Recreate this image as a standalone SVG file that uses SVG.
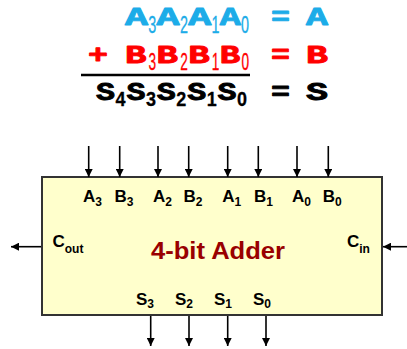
<svg xmlns="http://www.w3.org/2000/svg" width="407" height="349" viewBox="0 0 407 349">
<style>
.eq{font-family:'Courier New','Liberation Mono',monospace;font-weight:bold;font-size:26px;stroke-width:0.9;stroke-linejoin:round}
.sa{font-family:'Liberation Sans',Arial,sans-serif;font-weight:normal;font-size:24px;stroke-width:0.3}
.sm{font-family:'Liberation Sans',Arial,sans-serif;font-weight:bold;font-size:20px;stroke-width:0.3}
.lbl{font-family:'Liberation Sans',Arial,sans-serif;font-weight:bold;font-size:17px;fill:#000}
.sub{font-size:12px}
.title{font-family:'Liberation Sans',Arial,sans-serif;font-weight:bold;font-size:24px;fill:#990000}
.wire{stroke:#000;stroke-width:1.6;fill:none;marker-end:url(#ah)}
</style>
<defs>
<marker id="ah" viewBox="0 0 8 8" refX="8" refY="4" markerWidth="8" markerHeight="8" markerUnits="userSpaceOnUse" orient="auto">
<path d="M0,0 L8,4 L0,8 Z" fill="#000"/>
</marker>
</defs>
<g id="equations">
<text class="eq" fill="#1CACE8" stroke="#1CACE8"><tspan x="125" y="25" textLength="23" lengthAdjust="spacingAndGlyphs">A</tspan><tspan class="sa" x="148.3" y="33" textLength="8" lengthAdjust="spacingAndGlyphs">3</tspan><tspan x="156.6" y="25" textLength="23" lengthAdjust="spacingAndGlyphs">A</tspan><tspan class="sa" x="179.9" y="33" textLength="8" lengthAdjust="spacingAndGlyphs">2</tspan><tspan x="188.2" y="25" textLength="23" lengthAdjust="spacingAndGlyphs">A</tspan><tspan class="sa" x="211.5" y="33" textLength="8" lengthAdjust="spacingAndGlyphs">1</tspan><tspan x="219.8" y="25" textLength="21" lengthAdjust="spacingAndGlyphs">A</tspan><tspan class="sa" x="241.1" y="33" textLength="8" lengthAdjust="spacingAndGlyphs">0</tspan> <tspan x="271" y="25" textLength="19" lengthAdjust="spacingAndGlyphs">=</tspan> <tspan x="306" y="25" textLength="22" lengthAdjust="spacingAndGlyphs">A</tspan></text>
<text class="eq" fill="#FF0000" stroke="#FF0000"><tspan x="88" y="63" textLength="20" lengthAdjust="spacingAndGlyphs">+</tspan> <tspan x="125" y="63" textLength="21.5" lengthAdjust="spacingAndGlyphs">B</tspan><tspan class="sa" x="148.6" y="70" textLength="7.6" lengthAdjust="spacingAndGlyphs">3</tspan><tspan x="156.6" y="63" textLength="21.5" lengthAdjust="spacingAndGlyphs">B</tspan><tspan class="sa" x="180.2" y="70" textLength="7.6" lengthAdjust="spacingAndGlyphs">2</tspan><tspan x="188.2" y="63" textLength="21.5" lengthAdjust="spacingAndGlyphs">B</tspan><tspan class="sa" x="211.8" y="70" textLength="7.6" lengthAdjust="spacingAndGlyphs">1</tspan><tspan x="219.8" y="63" textLength="20.5" lengthAdjust="spacingAndGlyphs">B</tspan><tspan class="sa" x="241.4" y="70" textLength="7.6" lengthAdjust="spacingAndGlyphs">0</tspan> <tspan x="271" y="63" textLength="19" lengthAdjust="spacingAndGlyphs">=</tspan> <tspan x="306" y="63" textLength="22" lengthAdjust="spacingAndGlyphs">B</tspan></text>
<line x1="81" y1="75" x2="250" y2="75" stroke="#000" stroke-width="2.5"/>
<text class="eq" fill="#000" stroke="#000"><tspan x="96" y="100" textLength="19" lengthAdjust="spacingAndGlyphs">S</tspan><tspan class="sm" x="115.5" y="106" textLength="10" lengthAdjust="spacingAndGlyphs">4</tspan><tspan x="126.4" y="100" textLength="19" lengthAdjust="spacingAndGlyphs">S</tspan><tspan class="sm" x="145.9" y="106" textLength="10" lengthAdjust="spacingAndGlyphs">3</tspan><tspan x="156.8" y="100" textLength="19" lengthAdjust="spacingAndGlyphs">S</tspan><tspan class="sm" x="176.3" y="106" textLength="10" lengthAdjust="spacingAndGlyphs">2</tspan><tspan x="187.2" y="100" textLength="19" lengthAdjust="spacingAndGlyphs">S</tspan><tspan class="sm" x="206.7" y="106" textLength="10" lengthAdjust="spacingAndGlyphs">1</tspan><tspan x="217.6" y="100" textLength="19" lengthAdjust="spacingAndGlyphs">S</tspan><tspan class="sm" x="237.1" y="106" textLength="10" lengthAdjust="spacingAndGlyphs">0</tspan> <tspan x="271" y="100" textLength="19" lengthAdjust="spacingAndGlyphs">=</tspan> <tspan x="306" y="100" textLength="22" lengthAdjust="spacingAndGlyphs">S</tspan></text>
</g>
<g id="adder">
<rect x="42" y="177" width="340" height="138" fill="#FFFFCC" stroke="#333" stroke-width="2"/>
<text class="lbl" x="83" y="202">A<tspan class="sub" dy="4">3</tspan></text>
<text class="lbl" x="114.5" y="202">B<tspan class="sub" dy="4">3</tspan></text>
<text class="lbl" x="153" y="202">A<tspan class="sub" dy="4">2</tspan></text>
<text class="lbl" x="183.5" y="202">B<tspan class="sub" dy="4">2</tspan></text>
<text class="lbl" x="222.3" y="202">A<tspan class="sub" dy="4">1</tspan></text>
<text class="lbl" x="254" y="202">B<tspan class="sub" dy="4">1</tspan></text>
<text class="lbl" x="292" y="202">A<tspan class="sub" dy="4">0</tspan></text>
<text class="lbl" x="322.7" y="202">B<tspan class="sub" dy="4">0</tspan></text>
<text class="lbl" x="52.5" y="246.5">C<tspan class="sub" font-size="13" dy="6.5">out</tspan></text>
<text class="lbl" x="347" y="246.5">C<tspan class="sub" font-size="13" dy="6.5">in</tspan></text>
<text class="title" x="151" y="259" textLength="134" lengthAdjust="spacingAndGlyphs">4-bit Adder</text>
<text class="lbl" x="136" y="305">S<tspan class="sub" dy="3">3</tspan></text>
<text class="lbl" x="175" y="305">S<tspan class="sub" dy="3">2</tspan></text>
<text class="lbl" x="214" y="305">S<tspan class="sub" dy="3">1</tspan></text>
<text class="lbl" x="253" y="305">S<tspan class="sub" dy="3">0</tspan></text>
</g>
<g id="connectors">
<line class="wire" x1="88.7" y1="146" x2="88.7" y2="177"/>
<line class="wire" x1="119.7" y1="146" x2="119.7" y2="177"/>
<line class="wire" x1="158" y1="146" x2="158" y2="177"/>
<line class="wire" x1="188.7" y1="146" x2="188.7" y2="177"/>
<line class="wire" x1="227.7" y1="146" x2="227.7" y2="177"/>
<line class="wire" x1="258.3" y1="146" x2="258.3" y2="177"/>
<line class="wire" x1="297" y1="146" x2="297" y2="177"/>
<line class="wire" x1="328.3" y1="146" x2="328.3" y2="177"/>
<line class="wire" x1="150.7" y1="316" x2="150.7" y2="346"/>
<line class="wire" x1="189" y1="316" x2="189" y2="346"/>
<line class="wire" x1="227.7" y1="316" x2="227.7" y2="346"/>
<line class="wire" x1="266" y1="316" x2="266" y2="346"/>
<line class="wire" x1="41" y1="246.7" x2="11" y2="246.7"/>
<line class="wire" x1="407" y1="246.7" x2="383" y2="246.7"/>
</g>
</svg>
